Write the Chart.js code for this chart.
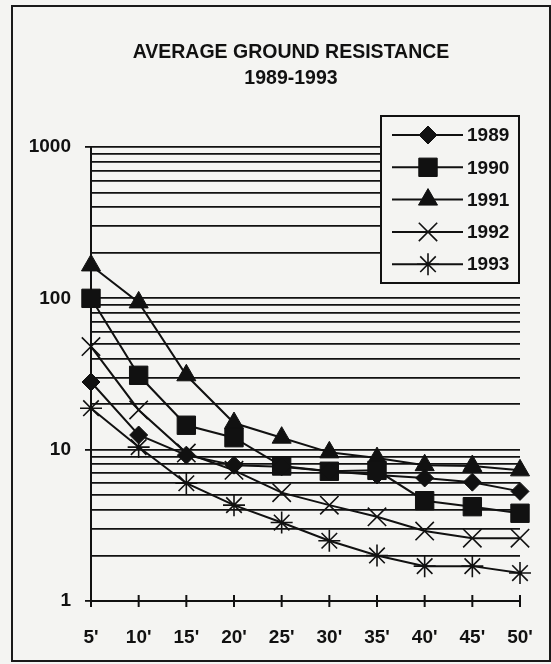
<!DOCTYPE html>
<html lang="en">
<head>
    <meta charset="UTF-8">
    <title>Average Ground Resistance 1989-1993</title>
    <style>
        body {
            margin: 0;
            background-color: #f4f4f2;
            font-family: "Liberation Sans", Arial, sans-serif;
        }

        .frame {
            position: absolute;
            left: 11px;
            top: 5px;
            width: 536px;
            height: 653px;
            border: 2px solid #1a1a1a;
        }

        .title {
            position: absolute;
            left: 0;
            top: 38px;
            width: 582px;
            text-align: center;
            font-weight: bold;
            font-size: 19.5px;
            line-height: 26px;
            color: #111;
        }

        canvas {
            position: absolute;
            left: 0;
            top: 0;
        }
    </style>
    <script src="https://cdn.jsdelivr.net/npm/chart.js"></script>
</head>
<body>

    <div class="frame"></div>
    <canvas id="groundChart" width="551" height="664"></canvas>
    <div class="title">AVERAGE GROUND RESISTANCE<br>1989-1993</div>

    <script>
        // distances and yearly averages (ohms)
        const depths = ["5'", "10'", "15'", "20'", "25'", "30'", "35'", "40'", "45'", "50'"];
        const years = ['1989', '1990', '1991', '1992', '1993'];

        const r1989 = [28, 12.5, 9.2, 7.9, 7.7, 7.2, 6.8, 6.5, 6.1, 5.3];
        const r1990 = [100, 31, 14.5, 12, 7.8, 7.2, 7.3, 4.6, 4.2, 3.8];
        const r1991 = [165, 94, 31, 15, 12, 9.6, 8.8, 7.9, 7.8, 7.3];
        const r1992 = [48, 18.3, 9.5, 7.3, 5.2, 4.3, 3.6, 2.9, 2.6, 2.6];
        const r1993 = [18.8, 10.4, 6.0, 4.3, 3.3, 2.5, 2.0, 1.7, 1.7, 1.53];

        // y tick labels, the gridlines fall on every 1..9 step of each decade
        const yLabels = [1, 10, 100, 1000];

        const ink = '#111';
        const fontFamily = '"Liberation Sans", Arial, sans-serif';

        const markers = [
            { style: 'rectRot', radius: 9, border: 1 },
            { style: 'rect', radius: 13, border: 1 },
            { style: 'triangle', radius: 11, border: 1 },
            { style: 'crossRot', radius: 13, border: 1.6 },
            { style: 'star', radius: 11, border: 1.6 }
        ];

        const series = [r1989, r1990, r1991, r1992, r1993];

        const datasets = series.map((values, i) => ({
            label: years[i],
            data: values,
            borderColor: ink,
            borderWidth: 2,
            backgroundColor: ink,
            pointStyle: markers[i].style,
            pointRadius: markers[i].radius,
            pointBorderWidth: markers[i].border,
            pointBackgroundColor: ink,
            pointBorderColor: ink,
            tension: 0
        }));

        // legend box inside the plot, like the original
        const boxLegend = {
            id: 'boxLegend',
            afterDraw(chart) {
                const ctx = chart.ctx;
                const left = 381, top = 116, right = 519, bottom = 283;
                ctx.save();
                ctx.fillStyle = '#f4f4f2';
                ctx.fillRect(left, top, right - left, bottom - top);
                ctx.strokeStyle = ink;
                ctx.lineWidth = 2;
                ctx.strokeRect(left, top, right - left, bottom - top);

                ctx.font = 'bold 19px ' + fontFamily;
                ctx.textBaseline = 'middle';
                chart.data.datasets.forEach((ds, i) => {
                    const y = 135 + i * 32.3;
                    ctx.strokeStyle = ink;
                    ctx.lineWidth = 2;
                    ctx.beginPath();
                    ctx.moveTo(392, y);
                    ctx.lineTo(463, y);
                    ctx.stroke();

                    ctx.fillStyle = ink;
                    ctx.lineWidth = ds.pointBorderWidth;
                    Chart.helpers.drawPoint(ctx, {
                        pointStyle: ds.pointStyle,
                        radius: ds.pointRadius,
                        rotation: 0,
                        borderWidth: ds.pointBorderWidth
                    }, 428, y);

                    ctx.fillStyle = ink;
                    ctx.fillText(ds.label, 467, y + 1);
                });
                ctx.restore();
            }
        };

        // small tick marks crossing the x axis
        const xTicks = {
            id: 'xTicks',
            afterDraw(chart) {
                const ctx = chart.ctx;
                const xs = chart.scales.x;
                const base = chart.chartArea.bottom;
                ctx.save();
                ctx.strokeStyle = ink;
                ctx.lineWidth = 2;
                xs.ticks.forEach((t, i) => {
                    const x = xs.getPixelForTick(i);
                    ctx.beginPath();
                    ctx.moveTo(x, base - 6);
                    ctx.lineTo(x, base + 6);
                    ctx.stroke();
                });
                ctx.restore();
            }
        };

        const gridValues = [];
        for (let d = 1; d <= 100; d *= 10) {
            for (let k = 1; k < 10; k++) gridValues.push(k * d);
        }
        gridValues.push(1000);

        new Chart(document.getElementById('groundChart'), {
            type: 'line',
            data: {
                labels: depths,
                datasets: datasets
            },
            options: {
                responsive: false,
                animation: false,
                devicePixelRatio: 1,
                layout: {
                    padding: { left: 0, top: 147, right: 31, bottom: 0 }
                },
                plugins: {
                    legend: { display: false },
                    title: { display: false },
                    tooltip: { enabled: false }
                },
                scales: {
                    x: {
                        type: 'category',
                        offset: false,
                        // invisible long ticks push the labels down without widening the right padding
                        grid: {
                            display: true,
                            drawOnChartArea: false,
                            drawTicks: true,
                            tickLength: 22,
                            tickColor: 'rgba(0,0,0,0)'
                        },
                        border: { display: true, color: ink, width: 2 },
                        ticks: {
                            color: ink,
                            padding: 3,
                            maxRotation: 0,
                            autoSkip: false,
                            font: { family: fontFamily, size: 19, weight: 'bold' }
                        },
                        afterFit(scale) {
                            scale.height = 63;
                        }
                    },
                    y: {
                        type: 'logarithmic',
                        min: 1,
                        max: 1000,
                        afterBuildTicks(scale) {
                            scale.ticks = gridValues.map(v => ({ value: v }));
                        },
                        afterFit(scale) {
                            scale.width = 91;
                        },
                        grid: {
                            color: ink,
                            lineWidth: 1.8,
                            drawTicks: true,
                            tickLength: 6,
                            tickColor: (c) => yLabels.includes(c.tick && c.tick.value) ? ink : 'rgba(0,0,0,0)'
                        },
                        border: { display: true, color: ink, width: 2 },
                        ticks: {
                            color: ink,
                            padding: 14,
                            autoSkip: false,
                            font: { family: fontFamily, size: 19, weight: 'bold' },
                            callback: (v) => yLabels.includes(v) ? String(v) : ''
                        }
                    }
                }
            },
            plugins: [boxLegend, xTicks]
        });
    </script>

</body>
</html>
